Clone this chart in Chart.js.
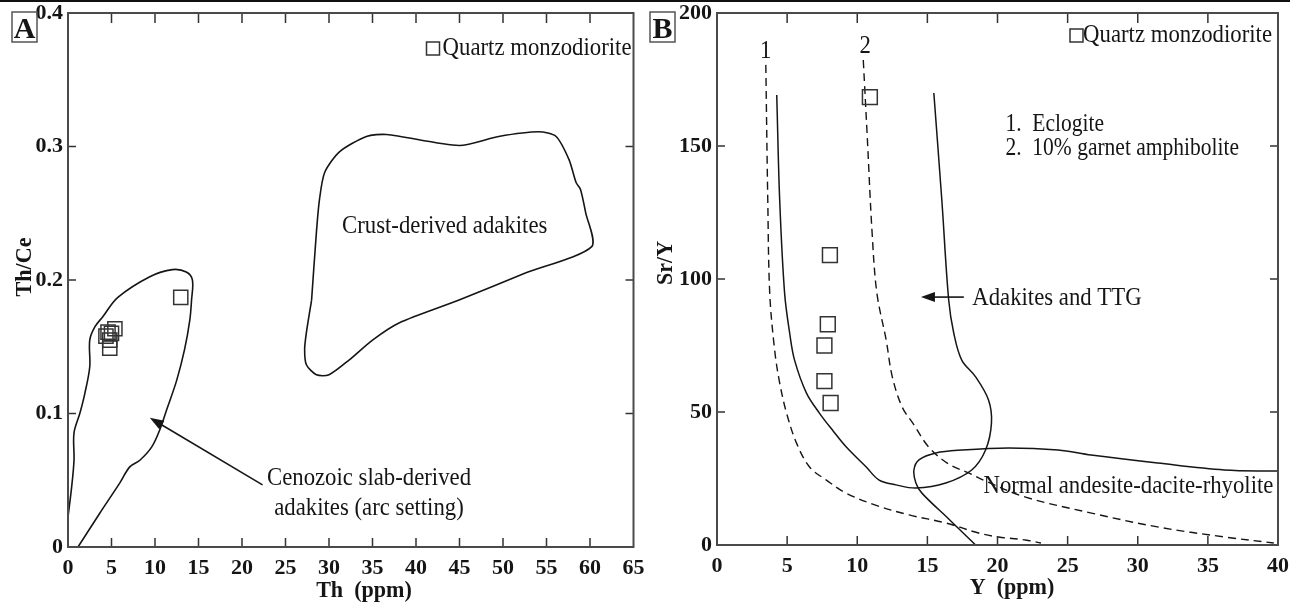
<!DOCTYPE html>
<html>
<head>
<meta charset="utf-8">
<script src="https://cdn.jsdelivr.net/npm/chart.js@4.4.1/dist/chart.umd.min.js"></script>
<style>
  html, body { margin: 0; padding: 0; background: #fff; }
  #topRule { position: absolute; left: 0; top: 0; width: 1290px; height: 2px; background: #111; }
  #chartA { position: absolute; left: 0; top: 0; }
  #chartB { position: absolute; left: 645px; top: 0; }
</style>
</head>
<body>
<div id="topRule"></div>
<canvas id="chartA" width="645" height="603"></canvas>
<canvas id="chartB" width="645" height="603"></canvas>

<script>
// ---- Panel A : Th (ppm) vs Th/Ce ----
const sampleTh   = [5.39, 4.36, 4.8, 4.8, 4.6, 5.0, 12.96];
const sampleThCe = [0.1635, 0.158, 0.149, 0.155, 0.161, 0.160, 0.187];

// slab-derived adakite field (open outline, runs from the Y axis round to the X axis)
const slabTh   = [0, 0.42, 0.69, 0.69, 1.38, 1.95, 2.5, 2.5, 3.1, 4.0, 5.73, 9.4, 12.0, 13.6, 14.3, 14.2, 14.0, 13.4, 12.5, 11.35, 10.55, 9.63, 8.26, 7.1, 5.96, 3.67, 1.15];
const slabThCe = [0.0225, 0.045, 0.065, 0.0855, 0.1005, 0.1155, 0.135, 0.155, 0.165, 0.1725, 0.187, 0.2025, 0.2078, 0.206, 0.200, 0.185, 0.170, 0.148, 0.125, 0.103, 0.0878, 0.075, 0.065, 0.060, 0.048, 0.0255, 0];

// crust-derived adakite field (closed)
const crustTh   = [28.0, 28.55, 28.9, 29.5, 31.2, 34.3, 36.6, 44.95, 49.5, 54.1, 56.1, 57.6, 58.4, 58.9, 59.5, 60.2, 52.5, 44.95, 38.1, 35.0, 32.3, 30.0, 28.55, 27.4, 27.2, 27.4, 28.0];
const crustThCe = [0.185, 0.2355, 0.260, 0.2805, 0.296, 0.3075, 0.309, 0.3008, 0.3075, 0.311, 0.3075, 0.290, 0.273, 0.268, 0.2505, 0.225, 0.205, 0.185, 0.168, 0.155, 0.140, 0.129, 0.129, 0.1365, 0.148, 0.1605, 0.185];

const thTicks   = [0, 65, 5];      // min, max, step
const thCeTicks = [0, 0.4, 0.1];

// ---- Panel B : Y (ppm) vs Sr/Y ----
const sampleY   = [10.9, 8.05, 7.9, 7.66, 7.66, 8.1];
const sampleSrY = [168.4, 109, 83, 75, 61.6, 53.4];

// 1. eclogite melting curve (dashed)
const eclogiteY   = [3.48, 3.62, 3.76, 4.11, 4.47, 4.96, 5.67, 6.6, 7.8, 9.2, 11.3, 13.7, 16.3, 18.65, 20.07, 22.0, 23.1];
const eclogiteSrY = [180.5, 129.7, 94.7, 73.3, 60.9, 49.6, 38.3, 29.3, 24.4, 19.5, 15.0, 11.3, 8.3, 4.5, 3.0, 1.9, 0.75];

// 2. 10% garnet amphibolite melting curve (dashed)
const amphY   = [10.43, 10.7, 11.06, 11.4, 12.06, 12.5, 13.2, 14.0, 15.1, 16.5, 17.94, 19.0, 22.0, 26.7, 31.4, 36.2, 39.7];
const amphSrY = [182.3, 154.9, 117.3, 94.7, 77.1, 63.2, 51.9, 45.5, 36.8, 30.5, 27.1, 24.4, 18.0, 12.0, 6.8, 3.0, 0.75];

// adakite / TTG field boundary (U-shaped, solid)
const adakiteY   = [4.26, 4.47, 4.82, 5.18, 5.53, 6.38, 7.30, 8.23, 9.22, 10.64, 11.56, 12.77, 14.18, 16.31, 18.16, 19.15, 19.57, 19.36, 18.44, 17.45, 16.88, 16.52, 16.03, 15.46];
const adakiteSrY = [169.2, 129.7, 94.7, 79.7, 69.5, 57.1, 49.6, 43.2, 36.8, 29.3, 24.4, 22.6, 21.4, 23.3, 28.2, 35.7, 45.9, 54.5, 63.2, 69.5, 79.7, 92.1, 129.7, 169.9];

// normal andesite-dacite-rhyolite field boundary (solid)
const normalY   = [39.93, 36.17, 31.42, 26.67, 24.33, 20.78, 17.45, 15.6, 14.4, 14.04, 14.18, 14.61, 16.52, 18.44];
const normalSrY = [27.8, 28.2, 30.8, 33.8, 35.7, 36.5, 35.7, 34.6, 32.0, 28.2, 23.3, 19.5, 9.8, 0];

const yTicks   = [0, 40, 5];
const srYTicks = [0, 200, 50];

const FONT = '"Liberation Serif", "Times New Roman", serif';
const INK = '#151515';

function zip(xs, ys) { return xs.map((x, i) => ({ x: x, y: ys[i] })); }

function text(ctx, str, px, py, align, size, weight, sx) {
  ctx.save();
  ctx.font = weight + ' ' + size + 'px ' + FONT;
  ctx.textBaseline = 'alphabetic';
  ctx.textAlign = align;
  ctx.fillStyle = INK;
  ctx.translate(px, py);
  ctx.scale(sx, 1);
  ctx.fillText(str, 0, 0);
  ctx.restore();
}

function arrow(ctx, x0, y0, x1, y1) {
  const ang = Math.atan2(y1 - y0, x1 - x0);
  const len = 14, half = 5;
  ctx.save();
  ctx.strokeStyle = INK; ctx.fillStyle = INK; ctx.lineWidth = 1.6;
  ctx.beginPath();
  ctx.moveTo(x0, y0);
  ctx.lineTo(x1 - Math.cos(ang) * len * 0.8, y1 - Math.sin(ang) * len * 0.8);
  ctx.stroke();
  ctx.beginPath();
  ctx.moveTo(x1, y1);
  ctx.lineTo(x1 - Math.cos(ang) * len - Math.sin(ang) * half, y1 - Math.sin(ang) * len + Math.cos(ang) * half);
  ctx.lineTo(x1 - Math.cos(ang) * len + Math.sin(ang) * half, y1 - Math.sin(ang) * len - Math.cos(ang) * half);
  ctx.closePath();
  ctx.fill();
  ctx.restore();
}

// frame, inward tick marks on all four sides, panel letter, legend, notes
function framePlugin(letter, extras) {
  return {
    id: 'frame' + letter,
    afterDatasetsDraw(chart) {
      const ctx = chart.ctx, a = chart.chartArea;
      const xs = chart.scales.x, ys = chart.scales.y;
      ctx.save();
      ctx.strokeStyle = '#333';
      ctx.lineWidth = 1.5;
      ctx.beginPath();
      xs.ticks.forEach((t, i) => {
        const px = xs.getPixelForTick(i);
        if (px - a.left < 2 || a.right - px < 2) return;
        ctx.moveTo(px, a.top); ctx.lineTo(px, a.top + 10);
        ctx.moveTo(px, a.bottom); ctx.lineTo(px, a.bottom - 9);
      });
      ys.ticks.forEach((t, i) => {
        const py = ys.getPixelForTick(i);
        if (py - a.top < 2 || a.bottom - py < 2) return;
        ctx.moveTo(a.left, py); ctx.lineTo(a.left + 8, py);
        ctx.moveTo(a.right, py); ctx.lineTo(a.right - 8, py);
      });
      ctx.stroke();

      ctx.strokeStyle = '#4a4a4a';
      ctx.lineWidth = 2;
      ctx.strokeRect(a.left, a.top, a.right - a.left, a.bottom - a.top);
      ctx.restore();

      extras(ctx, a, xs, ys);
    }
  };
}

// fixed axis thickness, and no extra room for labels that hang past the plot corners
function fitTo(prop, size) {
  return s => {
    s[prop] = size;
    s.paddingTop = 0; s.paddingBottom = 0; s.paddingLeft = 0; s.paddingRight = 0;
  };
}

function axisOptions(range, fit, pad) {
  return {
    type: 'linear',
    min: range[0], max: range[1],
    afterFit: fit,
    grid: { display: false, drawTicks: false },
    border: { display: false },
    ticks: {
      stepSize: range[2], autoSkip: false, maxRotation: 0, padding: pad,
      color: INK, font: { family: FONT, size: 22, weight: 'bold' }
    }
  };
}

function legendBox(ctx, textRight, baseline, squareLeft) {
  ctx.save();
  ctx.strokeStyle = '#333'; ctx.lineWidth = 1.5;
  ctx.strokeRect(squareLeft, baseline - 13, 13, 13);
  ctx.restore();
  text(ctx, 'Quartz monzodiorite', textRight, baseline, 'right', 26, 'normal', 0.875);
}

function panelLetter(ctx, left, letter) {
  ctx.save();
  ctx.strokeStyle = '#555'; ctx.lineWidth = 1.5;
  ctx.strokeRect(left, 12, 25, 30);
  ctx.restore();
  text(ctx, letter, left + 12.5, 38, 'center', 30, 'bold', 1);
}

// ---------------- Chart A ----------------
new Chart(document.getElementById('chartA'), {
  type: 'scatter',
  data: {
    datasets: [
      { label: 'Quartz monzodiorite', data: zip(sampleTh, sampleThCe), pointStyle: 'rect',
        pointRadius: 10, borderColor: '#333', borderWidth: 1.5, backgroundColor: 'rgba(0,0,0,0)' },
      { label: 'Cenozoic slab-derived adakites', data: zip(slabTh, slabThCe), showLine: true,
        pointRadius: 0, borderColor: INK, borderWidth: 1.6, tension: 0.35, fill: false },
      { label: 'Crust-derived adakites', data: zip(crustTh, crustThCe), showLine: true,
        pointRadius: 0, borderColor: INK, borderWidth: 1.6, tension: 0.25, fill: false }
    ]
  },
  options: {
    responsive: false, animation: false, events: [],
    layout: { padding: { top: 13, right: 8, left: 0, bottom: 0 } },
    plugins: { legend: { display: false }, tooltip: { enabled: false } },
    scales: {
      x: axisOptions(thTicks, fitTo('height', 56), 8),
      y: axisOptions(thCeTicks, fitTo('width', 68), 5)
    }
  },
  plugins: [framePlugin('A', (ctx, a, xs, ys) => {
    panelLetter(ctx, 12, 'A');
    legendBox(ctx, a.right - 2, 55, a.right - 207);
    text(ctx, 'Crust-derived adakites', xs.getPixelForValue(43.3), ys.getPixelForValue(0.2355), 'center', 26, 'normal', 0.875);
    text(ctx, 'Cenozoic slab-derived', xs.getPixelForValue(34.6), ys.getPixelForValue(0.0465), 'center', 26, 'normal', 0.875);
    text(ctx, 'adakites (arc setting)', xs.getPixelForValue(34.6), ys.getPixelForValue(0.024), 'center', 26, 'normal', 0.875);
    arrow(ctx, xs.getPixelForValue(22.36), ys.getPixelForValue(0.0465), xs.getPixelForValue(9.4), ys.getPixelForValue(0.0968));
    text(ctx, 'Th  (ppm)', 364, 597, 'center', 24, 'bold', 0.92);
    ctx.save();
    ctx.translate(31, 267);
    ctx.rotate(-Math.PI / 2);
    text(ctx, 'Th/Ce', 0, 0, 'center', 24, 'bold', 0.92);
    ctx.restore();
  })]
});

// ---------------- Chart B ----------------
new Chart(document.getElementById('chartB'), {
  type: 'scatter',
  data: {
    datasets: [
      { label: 'Quartz monzodiorite', data: zip(sampleY, sampleSrY), pointStyle: 'rect',
        pointRadius: 10.5, borderColor: '#333', borderWidth: 1.5, backgroundColor: 'rgba(0,0,0,0)' },
      { label: '1. Eclogite', data: zip(eclogiteY, eclogiteSrY), showLine: true, pointRadius: 0,
        borderColor: INK, borderWidth: 1.4, borderDash: [8, 5], tension: 0.35, fill: false },
      { label: '2. 10% garnet amphibolite', data: zip(amphY, amphSrY), showLine: true, pointRadius: 0,
        borderColor: INK, borderWidth: 1.4, borderDash: [8, 5], tension: 0.35, fill: false },
      { label: 'Adakites and TTG', data: zip(adakiteY, adakiteSrY), showLine: true, pointRadius: 0,
        borderColor: INK, borderWidth: 1.5, tension: 0.35, fill: false },
      { label: 'Normal andesite-dacite-rhyolite', data: zip(normalY, normalSrY), showLine: true, pointRadius: 0,
        borderColor: INK, borderWidth: 1.5, tension: 0.35, fill: false }
    ]
  },
  options: {
    responsive: false, animation: false, events: [],
    layout: { padding: { top: 13, right: 6, left: 0, bottom: 0 } },
    plugins: { legend: { display: false }, tooltip: { enabled: false } },
    scales: {
      x: axisOptions(yTicks, fitTo('height', 58), 8),
      y: axisOptions(srYTicks, fitTo('width', 72), 5)
    }
  },
  plugins: [framePlugin('B', (ctx, a, xs, ys) => {
    panelLetter(ctx, 5, 'B');
    legendBox(ctx, a.right - 6, 42, a.right - 208);
    const X = v => xs.getPixelForValue(v), Y = v => ys.getPixelForValue(v);
    text(ctx, '1', X(3.48), Y(183.1), 'center', 26, 'normal', 0.875);
    text(ctx, '2', X(10.57), Y(185), 'center', 26, 'normal', 0.875);
    text(ctx, '1.  Eclogite', X(20.57), Y(155.5), 'left', 25, 'normal', 0.86);
    text(ctx, '2.  10% garnet amphibolite', X(20.57), Y(146.8), 'left', 25, 'normal', 0.86);
    text(ctx, 'Adakites and TTG', X(18.2), Y(90.2), 'left', 26, 'normal', 0.875);
    arrow(ctx, X(17.6), Y(93.2), X(14.54), Y(93.2));
    text(ctx, 'Normal andesite-dacite-rhyolite', X(19.0), Y(19.5), 'left', 26, 'normal', 0.875);
    text(ctx, 'Y  (ppm)', 367, 594, 'center', 24, 'bold', 0.92);
    ctx.save();
    ctx.translate(27, 263);
    ctx.rotate(-Math.PI / 2);
    text(ctx, 'Sr/Y', 0, 0, 'center', 24, 'bold', 0.92);
    ctx.restore();
  })]
});
</script>
</body>
</html>
